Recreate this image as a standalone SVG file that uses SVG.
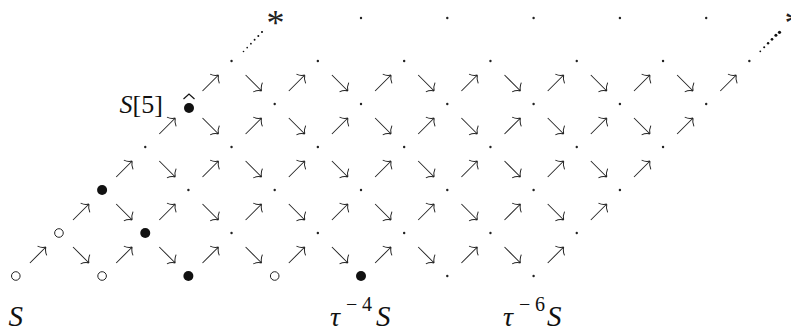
<svg xmlns="http://www.w3.org/2000/svg" xmlns:xlink="http://www.w3.org/1999/xlink" width="791" height="332" viewBox="0 0 791 332">
<style>
.dot{fill:#222}
.open{fill:#fff;stroke:#222;stroke-width:1}
.full{fill:#111}
.ast{font-family:"Liberation Serif",serif;font-size:36px;fill:#222;text-anchor:middle}
.lab{font-family:"Liberation Serif",serif;fill:#111}
.it{font-style:italic}
.dd{fill:#111}
</style>
<defs>
<g id="ne"><path transform="rotate(-45)" d="M-11.3,0H11.3M11.3,0C9.3,-1.2 7.3,-3 6,-6.5M11.3,0C9.3,1.2 7.3,3 6,6.5" fill="none" stroke="#222" stroke-width="1"/></g>
<g id="se"><path transform="rotate(45)" d="M-11.3,0H11.3M11.3,0C9.3,-1.2 7.3,-3 6,-6.5M11.3,0C9.3,1.2 7.3,3 6,6.5" fill="none" stroke="#222" stroke-width="1"/></g>
</defs>
<g id="connectors">
<!-- row k=0 -->
<use href="#ne" x="37.9" y="255"/><use href="#se" x="81.0" y="255"/><use href="#ne" x="124.2" y="255"/><use href="#se" x="167.3" y="255"/><use href="#ne" x="210.5" y="255"/><use href="#se" x="253.6" y="255"/><use href="#ne" x="296.8" y="255"/><use href="#se" x="339.9" y="255"/><use href="#ne" x="383.1" y="255"/><use href="#se" x="426.2" y="255"/><use href="#ne" x="469.4" y="255"/><use href="#se" x="512.5" y="255"/><use href="#ne" x="555.7" y="255"/>
<!-- row k=1 -->
<use href="#ne" x="81.0" y="212"/><use href="#se" x="124.2" y="212"/><use href="#ne" x="167.3" y="212"/><use href="#se" x="210.5" y="212"/><use href="#ne" x="253.6" y="212"/><use href="#se" x="296.8" y="212"/><use href="#ne" x="339.9" y="212"/><use href="#se" x="383.1" y="212"/><use href="#ne" x="426.2" y="212"/><use href="#se" x="469.4" y="212"/><use href="#ne" x="512.5" y="212"/><use href="#se" x="555.7" y="212"/><use href="#ne" x="598.8" y="212"/>
<!-- row k=2 -->
<use href="#ne" x="124.2" y="169"/><use href="#se" x="167.3" y="169"/><use href="#ne" x="210.5" y="169"/><use href="#se" x="253.6" y="169"/><use href="#ne" x="296.8" y="169"/><use href="#se" x="339.9" y="169"/><use href="#ne" x="383.1" y="169"/><use href="#se" x="426.2" y="169"/><use href="#ne" x="469.4" y="169"/><use href="#se" x="512.5" y="169"/><use href="#ne" x="555.7" y="169"/><use href="#se" x="598.8" y="169"/><use href="#ne" x="642.0" y="169"/>
<!-- row k=3 -->
<use href="#ne" x="167.3" y="126"/><use href="#se" x="210.5" y="126"/><use href="#ne" x="253.6" y="126"/><use href="#se" x="296.8" y="126"/><use href="#ne" x="339.9" y="126"/><use href="#se" x="383.1" y="126"/><use href="#ne" x="426.2" y="126"/><use href="#se" x="469.4" y="126"/><use href="#ne" x="512.5" y="126"/><use href="#se" x="555.7" y="126"/><use href="#ne" x="598.8" y="126"/><use href="#se" x="642.0" y="126"/><use href="#ne" x="685.1" y="126"/>
<!-- row k=4 -->
<use href="#ne" x="210.5" y="83"/><use href="#se" x="253.6" y="83"/><use href="#ne" x="296.8" y="83"/><use href="#se" x="339.9" y="83"/><use href="#ne" x="383.1" y="83"/><use href="#se" x="426.2" y="83"/><use href="#ne" x="469.4" y="83"/><use href="#se" x="512.5" y="83"/><use href="#ne" x="555.7" y="83"/><use href="#se" x="598.8" y="83"/><use href="#ne" x="642.0" y="83"/><use href="#se" x="685.1" y="83"/><use href="#ne" x="728.3" y="83"/>
<!-- dotted continuations -->
<g class="dd">
<circle cx="243.5" cy="51.5" r="0.8"/><circle cx="247.2" cy="47.6" r="0.85"/><circle cx="250.9" cy="43.7" r="0.9"/><circle cx="254.6" cy="39.8" r="0.95"/><circle cx="258.3" cy="35.9" r="1"/><circle cx="262" cy="32" r="1.05"/>
<circle cx="760.3" cy="51.3" r="0.9"/><circle cx="764.2" cy="47.3" r="1.05"/><circle cx="768.1" cy="43.3" r="1.2"/><circle cx="772" cy="39.3" r="1.35"/><circle cx="775.9" cy="35.3" r="1.5"/><circle cx="779.5" cy="32.3" r="1.6"/>
</g>
</g>
<g id="nodes">
<!-- level 0, y=276 -->
<g id="n0-0"><circle class="open" cx="15.8" cy="276" r="4.3"/></g>
<g id="n0-1"><circle class="open" cx="102.1" cy="276" r="4.3"/></g>
<g id="n0-2"><circle class="full" cx="188.4" cy="276" r="5"/></g>
<g id="n0-3"><circle class="open" cx="274.7" cy="276" r="4.3"/></g>
<g id="n0-4"><circle class="full" cx="361" cy="276" r="5"/></g>
<g id="n0-5"><circle class="dot" cx="447.3" cy="276" r="1.2"/></g>
<g id="n0-6"><circle class="dot" cx="533.6" cy="276" r="1.2"/></g>
<!-- level 1, y=233 -->
<g id="n1-0"><circle class="open" cx="58.95" cy="233" r="4.3"/></g>
<g id="n1-1"><circle class="full" cx="145.25" cy="233" r="5"/></g>
<g id="n1-2"><circle class="dot" cx="231.55" cy="233" r="1.2"/></g>
<g id="n1-3"><circle class="dot" cx="317.85" cy="233" r="1.2"/></g>
<g id="n1-4"><circle class="dot" cx="404.15" cy="233" r="1.2"/></g>
<g id="n1-5"><circle class="dot" cx="490.45" cy="233" r="1.2"/></g>
<g id="n1-6"><circle class="dot" cx="576.75" cy="233" r="1.2"/></g>
<!-- level 2, y=190 -->
<g id="n2-0"><circle class="full" cx="102.1" cy="190" r="5"/></g>
<g id="n2-1"><circle class="dot" cx="188.4" cy="190" r="1.2"/></g>
<g id="n2-2"><circle class="dot" cx="274.7" cy="190" r="1.2"/></g>
<g id="n2-3"><circle class="dot" cx="361" cy="190" r="1.2"/></g>
<g id="n2-4"><circle class="dot" cx="447.3" cy="190" r="1.2"/></g>
<g id="n2-5"><circle class="dot" cx="533.6" cy="190" r="1.2"/></g>
<g id="n2-6"><circle class="dot" cx="619.9" cy="190" r="1.2"/></g>
<!-- level 3, y=147 -->
<g id="n3-0"><circle class="dot" cx="145.25" cy="147" r="1.2"/></g>
<g id="n3-1"><circle class="dot" cx="231.55" cy="147" r="1.2"/></g>
<g id="n3-2"><circle class="dot" cx="317.85" cy="147" r="1.2"/></g>
<g id="n3-3"><circle class="dot" cx="404.15" cy="147" r="1.2"/></g>
<g id="n3-4"><circle class="dot" cx="490.45" cy="147" r="1.2"/></g>
<g id="n3-5"><circle class="dot" cx="576.75" cy="147" r="1.2"/></g>
<g id="n3-6"><circle class="dot" cx="663.05" cy="147" r="1.2"/></g>
<!-- level 4, y=104 -->
<g id="n4-0"><circle class="full" cx="189" cy="108" r="5"/><path d="M183.5,99 L189,94 L194.5,99" fill="none" stroke="#111" stroke-width="1.2"/></g>
<g id="n4-1"><circle class="dot" cx="274.7" cy="104" r="1.2"/></g>
<g id="n4-2"><circle class="dot" cx="361" cy="104" r="1.2"/></g>
<g id="n4-3"><circle class="dot" cx="447.3" cy="104" r="1.2"/></g>
<g id="n4-4"><circle class="dot" cx="533.6" cy="104" r="1.2"/></g>
<g id="n4-5"><circle class="dot" cx="619.9" cy="104" r="1.2"/></g>
<g id="n4-6"><circle class="dot" cx="706.2" cy="104" r="1.2"/></g>
<!-- level 5, y=61 -->
<g id="n5-0"><circle class="dot" cx="231.55" cy="61" r="1.2"/></g>
<g id="n5-1"><circle class="dot" cx="317.85" cy="61" r="1.2"/></g>
<g id="n5-2"><circle class="dot" cx="404.15" cy="61" r="1.2"/></g>
<g id="n5-3"><circle class="dot" cx="490.45" cy="61" r="1.2"/></g>
<g id="n5-4"><circle class="dot" cx="576.75" cy="61" r="1.2"/></g>
<g id="n5-5"><circle class="dot" cx="663.05" cy="61" r="1.2"/></g>
<g id="n5-6"><circle class="dot" cx="749.35" cy="61" r="1.2"/></g>
<!-- level 6, y=18 -->
<g id="n6-0"><text class="ast" x="275.5" y="35">*</text></g>
<g id="n6-1"><circle class="dot" cx="361" cy="18" r="1.2"/></g>
<g id="n6-2"><circle class="dot" cx="447.3" cy="18" r="1.2"/></g>
<g id="n6-3"><circle class="dot" cx="533.6" cy="18" r="1.2"/></g>
<g id="n6-4"><circle class="dot" cx="619.9" cy="18" r="1.2"/></g>
<g id="n6-5"><circle class="dot" cx="706.2" cy="18" r="1.2"/></g>
<g id="n6-6"><text class="ast" x="793.5" y="35">*</text></g>
</g>
<g id="labels">
<text class="lab" x="119.5" y="113" font-size="26"><tspan class="it">S</tspan>[5]</text>
<text class="lab it" x="8.5" y="326" font-size="29">S</text>
<text class="lab it" x="330" y="326" font-size="28">τ</text>
<text class="lab" y="311" font-size="20"><tspan x="346">−</tspan><tspan x="362">4</tspan></text>
<text class="lab it" x="376" y="326" font-size="29">S</text>
<text class="lab it" x="503" y="326" font-size="28">τ</text>
<text class="lab" y="311" font-size="20"><tspan x="519">−</tspan><tspan x="535">6</tspan></text>
<text class="lab it" x="547" y="326" font-size="29">S</text>
</g>
</svg>
